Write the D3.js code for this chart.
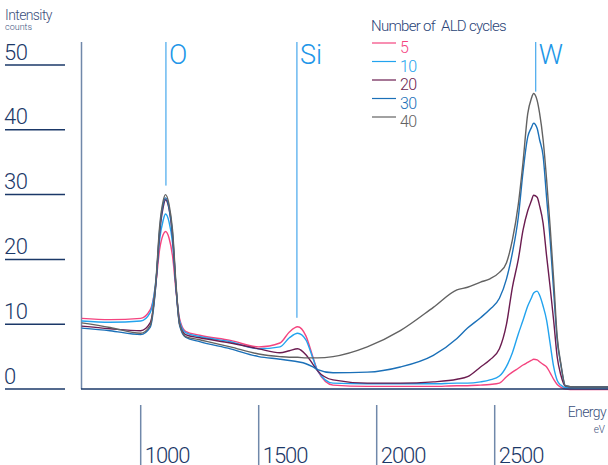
<!DOCTYPE html>
<html>
<head>
<meta charset="utf-8">
<script src="https://cdn.jsdelivr.net/npm/d3@7"></script>
<style>
  body { margin: 0; background: #fff; }
  svg { display: block; font-family: Roboto, "Open Sans", sans-serif; }
  text { white-space: pre; }
</style>
</head>
<body>
<div class="chart"></div>
<script>
// energy grid (eV) shared by every series
const energies = [750, 870, 1000, 1040, 1065, 1080, 1095, 1105, 1120, 1135,
  1150, 1165, 1190, 1250, 1380, 1500, 1590, 1630, 1665, 1700,
  1730, 1750, 1815, 1960, 2100, 2240, 2340, 2385, 2440, 2480,
  2520, 2550, 2575, 2600, 2620, 2640, 2655, 2665, 2680, 2690,
  2705, 2720, 2735, 2750, 2765, 2780, 2800, 2840, 2905, 2980];

// intensity (counts) per number of ALD cycles
const cycles5 = [10.9, 10.7, 10.9, 12.2, 16.5, 21.5, 23.8, 24.3, 23.3, 20.5,
  15.0, 10.8, 8.9, 8.3, 7.5, 6.5, 7.1, 8.8, 9.6, 8.2,
  4.9, 2.8, 0.6, 0.4, 0.4, 0.4, 0.5, 0.5, 0.6, 0.7,
  0.9, 1.9, 2.6, 3.2, 3.7, 4.1, 4.4, 4.6, 4.5, 4.2,
  3.8, 3.4, 2.5, 1.5, 0.7, 0.3, 0.0, -0.1, -0.1, -0.1];
const cycles10 = [10.5, 10.3, 10.5, 11.8, 17.0, 23.0, 26.0, 27.0, 25.8, 22.5,
  15.5, 10.5, 8.7, 8.1, 7.3, 6.2, 6.5, 7.9, 8.6, 7.6,
  4.7, 2.8, 0.9, 0.8, 0.8, 0.8, 0.9, 0.9, 1.1, 1.4,
  2.0, 3.5, 5.6, 8.5, 10.6, 12.8, 14.0, 14.8, 15.1, 14.5,
  12.8, 10.6, 7.0, 3.4, 1.3, 0.6, 0.2, 0.2, 0.2, 0.2];
const cycles20 = [9.7, 9.3, 9.0, 10.2, 16.5, 24.0, 28.0, 29.2, 27.8, 23.5,
  15.5, 10.0, 8.4, 7.9, 7.1, 6.2, 5.6, 5.9, 6.2, 5.3,
  3.8, 2.8, 1.4, 0.9, 0.9, 1.1, 1.5, 1.9, 3.4, 4.5,
  6.2, 10.0, 15.7, 20.0, 24.5, 27.5, 29.0, 29.9, 29.6, 28.3,
  25.6, 20.5, 15.7, 10.5, 4.9, 2.2, 0.4, 0.3, 0.3, 0.3];
const cycles30 = [9.4, 9.0, 8.4, 9.5, 16.5, 24.5, 28.5, 29.5, 28.0, 24.0,
  15.5, 9.8, 8.0, 7.3, 6.2, 5.0, 4.6, 4.4, 4.2, 3.9,
  3.4, 3.0, 2.5, 2.6, 3.4, 5.2, 7.8, 9.4, 11.0, 12.3,
  14.0, 17.0, 21.0, 26.5, 33.5, 38.9, 40.3, 41.0, 40.2, 38.5,
  36.0, 29.5, 23.0, 15.0, 7.5, 3.8, 0.5, 0.3, 0.3, 0.3];
const cycles40 = [10.2, 9.5, 8.6, 9.8, 17.0, 25.0, 29.0, 30.0, 28.5, 24.5,
  16.0, 10.0, 8.1, 7.6, 6.5, 5.4, 5.0, 4.9, 4.9, 4.8,
  4.8, 4.8, 5.0, 6.5, 9.0, 12.6, 15.3, 15.7, 16.5, 17.0,
  18.0, 19.5, 23.0, 28.5, 35.0, 42.5, 44.8, 45.6, 44.5, 42.6,
  38.5, 32.3, 25.0, 16.8, 8.0, 4.0, 0.5, 0.3, 0.3, 0.3];

const seriesNames = ["5", "10", "20", "30", "40"];
const seriesValues = [cycles5, cycles10, cycles20, cycles30, cycles40];
const seriesColors = ["#f4447f", "#22a3ee", "#6b1c50", "#1b70b8", "#626262"];

const yTicks = [0, 10, 20, 30, 40, 50];
const xTicks = [1000, 1500, 2000, 2500];

const elementNames = ["O", "Si", "W"];
const elementEnergies = [1107, 1662, 2674];

const width = 608;
const height = 465;
const navy = "#1b3868";
const slate = "#7088aa";
const elementBlue = "#2196e8";

const x = d3.scaleLinear().domain([1000, 2500]).range([140.7, 494.7]);
const y = d3.scaleLinear().domain([0, 50]).range([389, 65]);

const svg = d3.select(".chart").append("svg")
  .attr("width", width)
  .attr("height", height);

// y ticks: line under each label at the far left
const yt = svg.append("g").selectAll("g").data(yTicks).enter().append("g");
yt.append("line")
  .attr("x1", 5).attr("x2", 65)
  .attr("y1", d => y(d)).attr("y2", d => y(d))
  .attr("stroke", navy).attr("stroke-width", 1.5);
yt.append("text")
  .attr("x", 4).attr("y", d => y(d) - 5.5)
  .attr("fill", navy).attr("font-size", 22).attr("font-weight", 300)
  .attr("letter-spacing", -0.5)
  .text(d => d);

// y axis line
svg.append("line")
  .attr("x1", 81.5).attr("x2", 81.5).attr("y1", 42).attr("y2", 389)
  .attr("stroke", slate).attr("stroke-width", 1.5);

// x ticks: vertical marks below the plot
const xt = svg.append("g").selectAll("g").data(xTicks).enter().append("g");
xt.append("line")
  .attr("x1", d => x(d)).attr("x2", d => x(d))
  .attr("y1", 405).attr("y2", 465)
  .attr("stroke", slate).attr("stroke-width", 1.5);
xt.append("text")
  .attr("x", d => x(d) + 4).attr("y", 463)
  .attr("fill", navy).attr("font-size", 22).attr("font-weight", 300)
  .attr("letter-spacing", -1)
  .text(d => d);

// axis titles
svg.append("text").attr("x", 5).attr("y", 20)
  .attr("fill", "#3b4f7c").attr("font-size", 14).attr("font-weight", 300)
  .attr("letter-spacing", -0.6)
  .text("Intensity");
svg.append("text").attr("x", 5).attr("y", 30)
  .attr("fill", "#3b4f7c").attr("font-size", 9).attr("font-weight", 300)
  .text("counts");
svg.append("text").attr("x", 606).attr("y", 417).attr("text-anchor", "end")
  .attr("fill", "#3b4f7c").attr("font-size", 14).attr("font-weight", 300)
  .attr("letter-spacing", -0.6)
  .text("Energy");
svg.append("text").attr("x", 605).attr("y", 433).attr("text-anchor", "end")
  .attr("fill", "#3b4f7c").attr("font-size", 10).attr("font-weight", 300)
  .text("eV");

// element markers: line stops a little above the tallest curve
function peakAt(e) {
  const i = d3.leastIndex(energies, v => Math.abs(v - e));
  return d3.max(seriesValues, s => s[i]);
}
const el = svg.append("g").selectAll("g").data(elementNames).enter().append("g");
el.append("line")
  .attr("x1", (d, i) => x(elementEnergies[i])).attr("x2", (d, i) => x(elementEnergies[i]))
  .attr("y1", 42).attr("y2", (d, i) => y(peakAt(elementEnergies[i])) - 9)
  .attr("stroke", elementBlue).attr("stroke-width", 1);
el.append("text")
  .attr("x", (d, i) => x(elementEnergies[i]) + 3).attr("y", 64)
  .attr("fill", elementBlue).attr("font-size", 27).attr("font-weight", 300)
  .text(d => d);

// curves
const line = d3.line()
  .x((d, i) => x(energies[i]))
  .y(d => y(d))
  .curve(d3.curveMonotoneX);

svg.append("g").selectAll("path").data(seriesValues).enter().append("path")
  .attr("d", d => line(d))
  .attr("fill", "none")
  .attr("stroke", (d, i) => seriesColors[i])
  .attr("stroke-width", 1.4);

// x axis baseline
svg.append("line")
  .attr("x1", 81).attr("x2", 608).attr("y1", 389).attr("y2", 389)
  .attr("stroke", navy).attr("stroke-width", 1.5);

// legend
svg.append("text").attr("x", 371).attr("y", 31)
  .attr("fill", "#2a4377").attr("font-size", 15).attr("font-weight", 300)
  .attr("letter-spacing", -0.7)
  .text("Number of  ALD cycles");
const lg = svg.append("g").selectAll("g").data(seriesNames).enter().append("g")
  .attr("transform", (d, i) => "translate(0," + (43 + i * 18.5) + ")");
lg.append("line")
  .attr("x1", 372).attr("x2", 396)
  .attr("stroke", (d, i) => seriesColors[i]).attr("stroke-width", 1.2);
lg.append("text")
  .attr("x", 400).attr("y", 10)
  .attr("fill", (d, i) => seriesColors[i]).attr("font-size", 16).attr("font-weight", 300)
  .attr("letter-spacing", -0.6)
  .text(d => d);
</script>
</body>
</html>
